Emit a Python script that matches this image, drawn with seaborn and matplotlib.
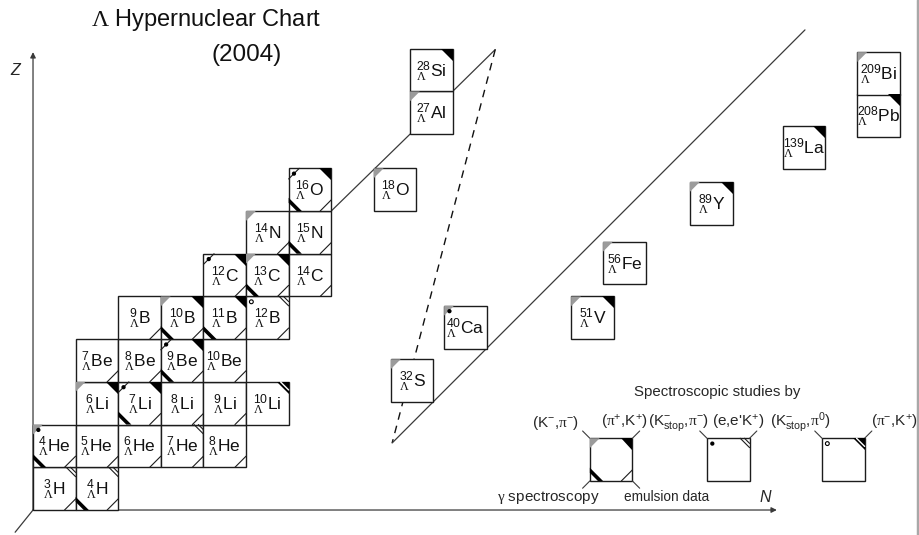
import matplotlib
matplotlib.use("Agg")
import matplotlib.pyplot as plt
from matplotlib.patches import Rectangle, Polygon, Circle
from matplotlib.lines import Line2D
import seaborn as sns
import pandas as pd

# ---------------------------------------------------------------------------
# Hypernuclei on the regular (N, Z) grid.
# Study codes:  g (K-,pi-)   k (pi+,K+)   s gamma spectroscopy   e emulsion
#               d (K-stop,pi-)   o (K-stop,pi0)   j (e,e'K+)   m (pi-,K+)
# ---------------------------------------------------------------------------
light_mass = [3, 4, 4, 5, 6, 7, 8, 6, 7, 8, 9, 10, 7, 8, 9, 10,
              9, 10, 11, 12, 12, 13, 14, 14, 15, 16, 18]
light_element = ["H", "H", "He", "He", "He", "He", "He",
                 "Li", "Li", "Li", "Li", "Li",
                 "Be", "Be", "Be", "Be",
                 "B", "B", "B", "B",
                 "C", "C", "C", "N", "N", "O", "O"]
light_Z = [1, 1, 2, 2, 2, 2, 2, 3, 3, 3, 3, 3, 4, 4, 4, 4,
           5, 5, 5, 5, 6, 6, 6, 7, 7, 8, 8]
light_studies = ["j e", "j s e", "g d s e", "e", "e", "j e", "e",
                 "g k", "d k s e", "e", "e", "m",
                 "e", "e", "d k s e", "e",
                 "e", "g k s e", "k s e", "o j e",
                 "d k e", "g k s e", "e",
                 "g e", "s e",
                 "d k s e", "g"]

# Heavier hypernuclei, shown on a compressed part of the chart
heavy_mass = [27, 28, 32, 40, 51, 56, 89, 139, 208, 209]
heavy_element = ["Al", "Si", "S", "Ca", "V", "Fe", "Y", "La", "Pb", "Bi"]
heavy_studies = ["g", "k", "g", "g d", "g k", "g", "g k", "k", "k", "g"]

# placement of the compressed part (cell units, lower-left corner)
heavy_col = [8.85, 8.85, 8.40, 9.65, 12.63, 13.38, 15.42, 17.60, 19.35, 19.35]
heavy_row = [8.80, 9.80, 2.53, 3.78, 4.00, 5.28, 6.68, 7.99, 8.74, 9.72]

# legend entries: study code and its reaction label
legend_codes = ["g", "k", "d", "j", "o", "m"]
legend_labels = [r"(K$^{-}$,$\mathcal{\pi}^{-}$)",
                 r"($\mathcal{\pi}^{+}$,K$^{+}$)",
                 r"($\mathrm{K}^{-}_{\mathrm{stop}}$,$\mathcal{\pi}^{-}$)",
                 r"(e,e'K$^{+}$)",
                 r"($\mathrm{K}^{-}_{\mathrm{stop}}$,$\mathcal{\pi}^{0}$)",
                 r"($\mathcal{\pi}^{-}$,K$^{+}$)"]

light = pd.DataFrame({"A": light_mass, "el": light_element, "Z": light_Z,
                      "studies": light_studies})
light["N"] = light["A"] - 1 - light["Z"]
heavy = pd.DataFrame({"A": heavy_mass, "el": heavy_element,
                      "studies": heavy_studies,
                      "col": heavy_col, "row": heavy_row})

# ---------------------------------------------------------------------------
sns.set_theme(style="white")
plt.rcParams["font.family"] = ["Liberation Sans", "DejaVu Sans"]
plt.rcParams["mathtext.fontset"] = "custom"
plt.rcParams["mathtext.rm"] = "Liberation Sans"
plt.rcParams["mathtext.it"] = "Liberation Sans:italic"
plt.rcParams["mathtext.sf"] = "Liberation Sans"
plt.rcParams["mathtext.cal"] = "Liberation Serif"

fig = plt.figure(figsize=(9.2, 5.35), dpi=100)
ax = fig.add_axes([0, 0, 1, 1])
ax.set_xlim(-0.775, 20.82)
ax.set_ylim(-0.585, 11.94)
ax.axis("off")

EDGE = "#1c1c1c"
GREY = "#9b9b9b"
LINE = "#3a3a3a"


def draw_cell(x0, y0, studies, label=None, size=12.5):
    x1, y1 = x0 + 1, y0 + 1
    codes = studies.split()
    ax.add_patch(Rectangle((x0, y0), 1, 1, fc="white", ec=EDGE, lw=1.0, zorder=2))
    if "g" in codes:
        ax.add_patch(Polygon([(x0, y1), (x0 + 0.23, y1), (x0, y1 - 0.23)],
                             closed=True, fc=GREY, ec="none", zorder=3))
    elif "d" in codes and label is not None:
        ax.plot([x0, x0 + 0.25], [y1 - 0.25, y1], color=EDGE, lw=0.8, zorder=3)
    if "k" in codes or "m" in codes:
        ax.add_patch(Polygon([(x1 - 0.28, y1), (x1, y1), (x1, y1 - 0.28)],
                             closed=True, fc="black", ec="none", zorder=3))
    if "m" in codes:
        ax.plot([x1 - 0.19, x1], [y1, y1 - 0.19], color="white", lw=1.0, zorder=4)
    if "j" in codes:
        for a in (0.12, 0.22):
            ax.plot([x1 - a, x1], [y1, y1 - a], color=EDGE, lw=0.8, zorder=3)
    if "s" in codes:
        ax.add_patch(Polygon([(x0, y0 + 0.19), (x0, y0 + 0.31),
                              (x0 + 0.31, y0), (x0 + 0.19, y0)],
                             closed=True, fc="black", ec="none", zorder=3))
    if "e" in codes:
        ax.plot([x1 - 0.26, x1], [y0, y0 + 0.26], color=EDGE, lw=0.8, zorder=3)
    if "d" in codes:
        ax.add_patch(Circle((x0 + 0.125, y1 - 0.125), 0.05, fc="black",
                            ec="none", zorder=4))
    if "o" in codes:
        ax.add_patch(Circle((x0 + 0.125, y1 - 0.125), 0.045, fc="white",
                            ec="black", lw=0.8, zorder=4))
    if label is not None:
        ax.text(x0 + 0.5, y0 + 0.47, label, ha="center", va="center",
                fontsize=size, color="#111111", zorder=5)


def nuclide(A, el):
    return "${}^{" + str(A) + r"}_{\mathcal{\Lambda}}\mathrm{" + el + "}$"


# axes of the chart
ax.annotate("", xy=(0, 10.72), xytext=(0, 0),
            arrowprops=dict(arrowstyle="-|>", color=LINE, lw=0.9,
                            mutation_scale=8, shrinkA=0, shrinkB=0), zorder=1)
ax.annotate("", xy=(17.46, 0), xytext=(0, 0),
            arrowprops=dict(arrowstyle="-|>", color=LINE, lw=0.9,
                            mutation_scale=8, shrinkA=0, shrinkB=0), zorder=1)
ax.plot([0, -0.42], [0, -0.52], color=LINE, lw=0.9, zorder=1)
ax.text(-0.42, 10.3, "Z", fontsize=11.5, style="italic", ha="center", va="center")
ax.text(17.18, 0.30, "N", fontsize=11.5, style="italic", ha="center", va="center")

# connecting lines toward the compressed region
sns.lineplot(x=[7, 8.85], y=[7, 8.8], sort=False, estimator=None,
             color=LINE, lw=0.9, ax=ax)
sns.lineplot(x=[9.85, 10.85], y=[9.8, 10.78], sort=False, estimator=None,
             color=LINE, lw=0.9, ax=ax)
sns.lineplot(x=[10.85, 8.43], y=[10.78, 1.57], sort=False, estimator=None,
             color="#111111", lw=1.0, linestyle=(0, (5.5, 4.5)), ax=ax)
sns.lineplot(x=[8.43, 18.12], y=[1.57, 11.24], sort=False, estimator=None,
             color=LINE, lw=0.9, ax=ax)

# nuclide cells
for _, r in light.iterrows():
    draw_cell(r["N"] - 1, r["Z"] - 1, r["studies"], nuclide(r["A"], r["el"]))
for _, r in heavy.iterrows():
    draw_cell(r["col"], r["row"], r["studies"], nuclide(r["A"], r["el"]))

# titles
fig.text(0.224, 0.962, r"$\mathcal{\Lambda}$ Hypernuclear Chart",
         fontsize=17, ha="center", va="center", color="#111111")
fig.text(0.268, 0.897, "(2004)", fontsize=17.5, ha="center", va="center",
         color="#111111")

# legend
ax.text(16.06, 2.76, "Spectroscopic studies by", fontsize=10.8,
        ha="center", va="center")
box_x = [13.07, 15.82, 18.52]
box_y = 0.68
draw_cell(box_x[0], box_y, "g k s e")
draw_cell(box_x[1], box_y, "d j")
draw_cell(box_x[2], box_y, "o m")
label_x = [12.26, 13.89, 15.14, 16.56, 18.0, 20.23]
for i, (lab, lx) in enumerate(zip(legend_labels, label_x)):
    bx = box_x[i // 2]
    cx = bx if i % 2 == 0 else bx + 1
    dx = -0.17 if i % 2 == 0 else 0.17
    ax.plot([cx, cx + dx], [box_y + 1, box_y + 1.17], color=LINE, lw=0.8)
    ax.text(lx, 2.04, lab, fontsize=11, ha="center", va="center")
ax.plot([box_x[0], box_x[0] - 0.17], [box_y, box_y - 0.17], color=LINE, lw=0.8)
ax.plot([box_x[0] + 1, box_x[0] + 1.17], [box_y, box_y - 0.17], color=LINE, lw=0.8)
ax.text(12.09, 0.30, r"$\mathcal{\gamma}$ spectroscopy", fontsize=11,
        ha="center", va="center")
ax.text(14.88, 0.30, "emulsion data", fontsize=9.8, ha="center", va="center")

# right-hand frame edge
fig.add_artist(Line2D([0.9975, 0.9975], [0, 1], transform=fig.transFigure,
                      color="#a8a8a8", lw=2.5))

fig.savefig("out.png", dpi=100)
